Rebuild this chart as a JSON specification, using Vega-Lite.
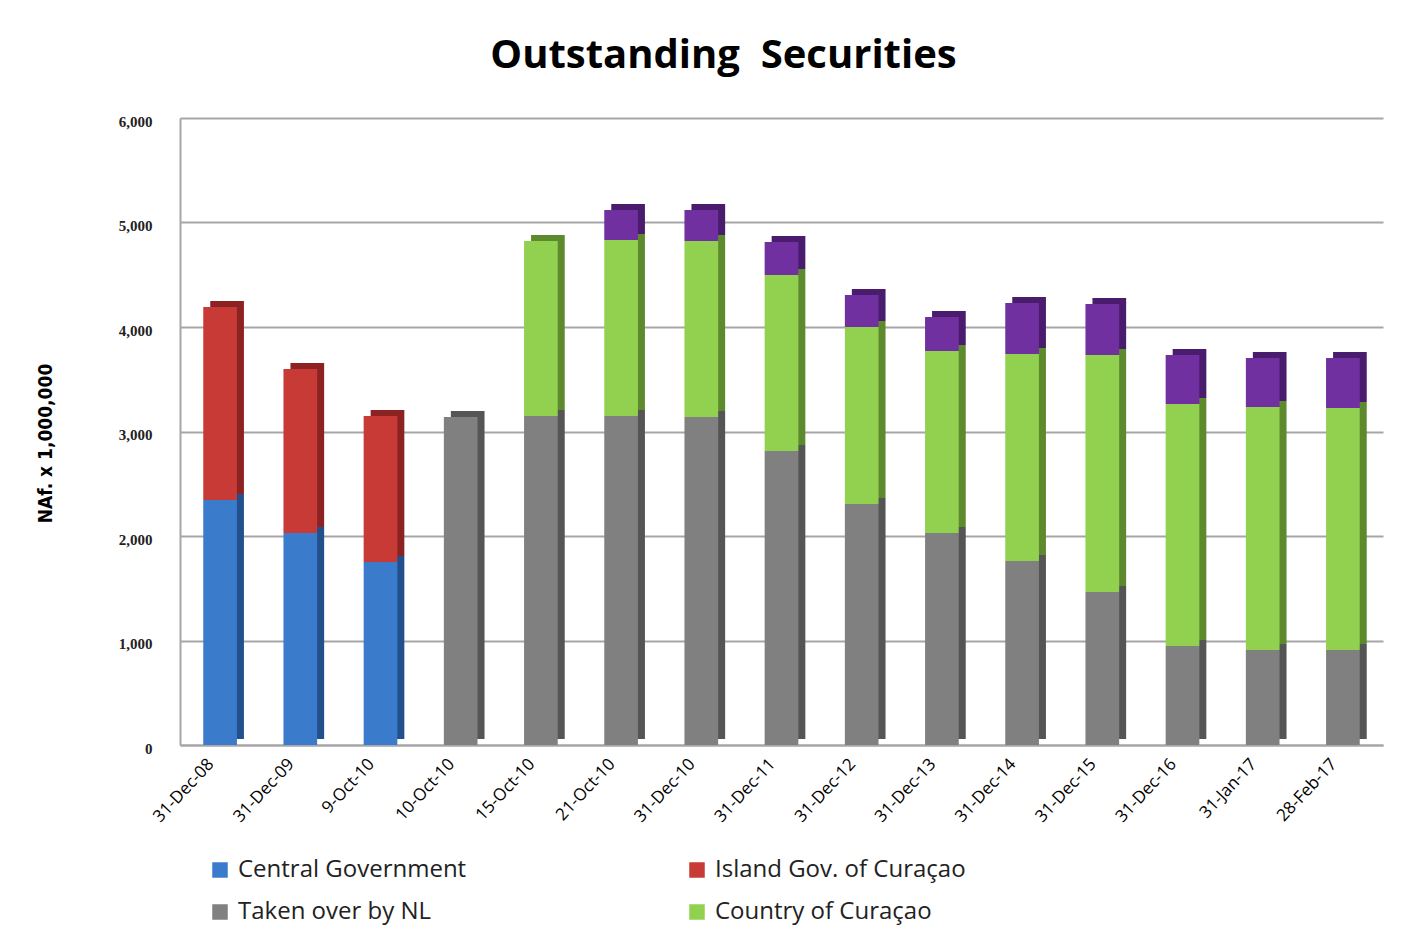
{
  "$schema": "https://vega.github.io/schema/vega-lite/v6.json",
  "autosize": "none",
  "width": 1203,
  "height": 627,
  "padding": {"left": 180, "top": 118, "right": 37, "bottom": 190},
  "background": "white",
  "config": {"view": {"stroke": null}},
  "title": {
    "text": "Outstanding\u00a0\u00a0Securities",
    "font": "Open Sans",
    "fontSize": 40,
    "fontWeight": "bold",
    "color": "#000000",
    "anchor": "middle",
    "frame": "group",
    "dx": -58,
    "offset": 38
  },
  "data": {
    "values": [
      {"date": "31-Dec-08", "series": "Central Government", "value": 2345},
      {"date": "31-Dec-08", "series": "Island Gov. of Curaçao", "value": 1846},
      {"date": "31-Dec-09", "series": "Central Government", "value": 2029},
      {"date": "31-Dec-09", "series": "Island Gov. of Curaçao", "value": 1569},
      {"date": "9-Oct-10", "series": "Central Government", "value": 1751},
      {"date": "9-Oct-10", "series": "Island Gov. of Curaçao", "value": 1397},
      {"date": "10-Oct-10", "series": "Taken over by NL", "value": 3139},
      {"date": "15-Oct-10", "series": "Taken over by NL", "value": 3148},
      {"date": "15-Oct-10", "series": "Country of Curaçao", "value": 1675},
      {"date": "21-Oct-10", "series": "Taken over by NL", "value": 3148},
      {"date": "21-Oct-10", "series": "Country of Curaçao", "value": 1685},
      {"date": "21-Oct-10", "series": "Other", "value": 287},
      {"date": "31-Dec-10", "series": "Taken over by NL", "value": 3139},
      {"date": "31-Dec-10", "series": "Country of Curaçao", "value": 1684},
      {"date": "31-Dec-10", "series": "Other", "value": 297},
      {"date": "31-Dec-11", "series": "Taken over by NL", "value": 2813},
      {"date": "31-Dec-11", "series": "Country of Curaçao", "value": 1685},
      {"date": "31-Dec-11", "series": "Other", "value": 315},
      {"date": "31-Dec-12", "series": "Taken over by NL", "value": 2306},
      {"date": "31-Dec-12", "series": "Country of Curaçao", "value": 1694},
      {"date": "31-Dec-12", "series": "Other", "value": 306},
      {"date": "31-Dec-13", "series": "Taken over by NL", "value": 2029},
      {"date": "31-Dec-13", "series": "Country of Curaçao", "value": 1741},
      {"date": "31-Dec-13", "series": "Other", "value": 326},
      {"date": "31-Dec-14", "series": "Taken over by NL", "value": 1761},
      {"date": "31-Dec-14", "series": "Country of Curaçao", "value": 1981},
      {"date": "31-Dec-14", "series": "Other", "value": 488},
      {"date": "31-Dec-15", "series": "Taken over by NL", "value": 1464},
      {"date": "31-Dec-15", "series": "Country of Curaçao", "value": 2268},
      {"date": "31-Dec-15", "series": "Other", "value": 488},
      {"date": "31-Dec-16", "series": "Taken over by NL", "value": 947},
      {"date": "31-Dec-16", "series": "Country of Curaçao", "value": 2316},
      {"date": "31-Dec-16", "series": "Other", "value": 469},
      {"date": "31-Jan-17", "series": "Taken over by NL", "value": 909},
      {"date": "31-Jan-17", "series": "Country of Curaçao", "value": 2325},
      {"date": "31-Jan-17", "series": "Other", "value": 469},
      {"date": "28-Feb-17", "series": "Taken over by NL", "value": 909},
      {"date": "28-Feb-17", "series": "Country of Curaçao", "value": 2316},
      {"date": "28-Feb-17", "series": "Other", "value": 478}
    ]
  },
  "transform": [
    {"calculate": "indexof(['Central Government', 'Island Gov. of Curaçao', 'Taken over by NL', 'Country of Curaçao', 'Other'], datum.series)", "as": "stackRank"}
  ],
  "encoding": {
    "x": {
      "field": "date",
      "type": "nominal",
      "sort": null,
      "scale": {"paddingInner": 0.58, "paddingOuter": 0.29},
      "axis": {
        "title": null,
        "labelAngle": -47,
        "labelFont": "Open Sans",
        "labelFontSize": 17,
        "labelColor": "#000000",
        "labelPadding": 16,
        "labelOffset": -9,
        "ticks": false,
        "domainColor": "#a6a6a6",
        "domainWidth": 2
      }
    },
    "y": {
      "field": "value",
      "type": "quantitative",
      "stack": "zero",
      "scale": {"domain": [0, 6000], "nice": false},
      "axis": {
        "title": "NAf. x 1,000,000",
        "titleFont": "DejaVu Sans Condensed, Liberation Sans",
        "titleFontSize": 19,
        "titleFontWeight": "bold",
        "titleColor": "#000000",
        "titleX": -135,
        "titleY": 325,
        "titleAngle": -90,
        "titleAlign": "center",
        "titleBaseline": "middle",
        "values": [0, 1000, 2000, 3000, 4000, 5000, 6000],
        "format": ",.0f",
        "labelFont": "Liberation Serif",
        "labelFontSize": 15,
        "labelFontWeight": "bold",
        "labelColor": "#222222",
        "labelPadding": 28,
        "labelOffset": 3,
        "ticks": false,
        "grid": true,
        "gridColor": "#a6a6a6",
        "gridWidth": 2,
        "domainColor": "#a6a6a6",
        "domainWidth": 2
      }
    },
    "order": {"field": "stackRank", "type": "quantitative", "sort": "ascending"}
  },
  "layer": [
    {
      "mark": {"type": "bar", "xOffset": 7, "yOffset": -6},
      "encoding": {
        "color": {
          "field": "series",
          "type": "nominal",
          "scale": {
            "domain": ["Central Government", "Island Gov. of Curaçao", "Taken over by NL", "Country of Curaçao", "Other"],
            "range": ["#22508c", "#8c2322", "#555555", "#5e8a2e", "#4a1c6e"]
          },
          "legend": null
        }
      }
    },
    {
      "mark": {"type": "bar"},
      "encoding": {
        "color": {
          "field": "series",
          "type": "nominal",
          "scale": {
            "domain": ["Central Government", "Island Gov. of Curaçao", "Taken over by NL", "Country of Curaçao", "Other"],
            "range": ["#3a7bcc", "#c73a35", "#808080", "#92d050", "#7030a0"]
          },
          "legend": {
            "title": null,
            "values": ["Central Government", "Island Gov. of Curaçao", "Taken over by NL", "Country of Curaçao"],
            "orient": "none",
            "legendX": 28,
            "legendY": 740,
            "direction": "horizontal",
            "columns": 2,
            "columnPadding": 218,
            "rowPadding": 18,
            "symbolType": "square",
            "symbolSize": 240,
            "symbolStrokeWidth": 0,
            "labelFont": "Open Sans",
            "labelFontSize": 24,
            "labelColor": "#222222",
            "labelOffset": 6,
            "labelLimit": 400
          }
        }
      }
    }
  ],
  "resolve": {"scale": {"color": "independent"}}
}
